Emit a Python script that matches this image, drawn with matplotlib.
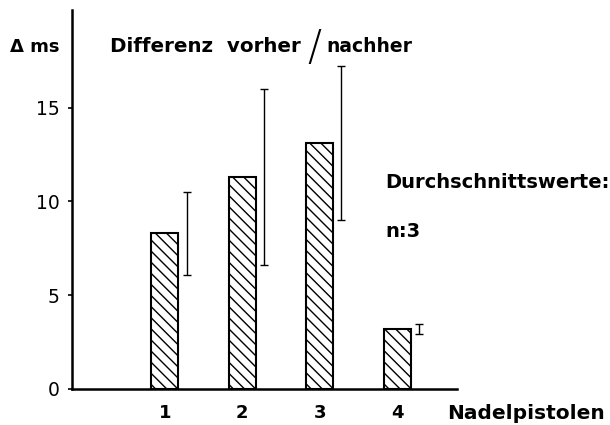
import numpy as np
import matplotlib
matplotlib.use('Agg')
import matplotlib.pyplot as plt

# Nadelpistolen 1-4, Differenz vorher/nachher in ms
pistolen = [1, 2, 3, 4]
tick_labels = ['1', '2', '3', '4']
mittel = [8.3, 11.3, 13.1, 3.2]
streuung = [2.2, 4.7, 4.1, 0.25]
y_ticks = [0, 5, 10, 15]

plt.rcParams['font.family'] = ['DejaVu Sans']
plt.rcParams['hatch.linewidth'] = 1.0

fig = plt.figure(figsize=(6.1, 4.25), dpi=100)
ax = fig.add_axes([0.118, 0.085, 0.631, 0.891])

x = np.array(pistolen, dtype=float)
ax.bar(x, mittel, width=0.35, facecolor='white', edgecolor='black',
       linewidth=1.5, hatch='\\\\\\', zorder=2)
ax.errorbar(x + 0.28, mittel, yerr=streuung, fmt='none', ecolor='black',
            elinewidth=1.0, capsize=3, capthick=1.0)

ax.set_xlim(-0.2, 4.77)
ax.set_ylim(0, 20.2)
ax.set_yticks(y_ticks)
ax.set_yticklabels([str(v) for v in y_ticks], fontsize=13.5)
ax.set_xticks(x)
ax.set_xticklabels(tick_labels, fontsize=13, fontweight='bold')
ax.tick_params(axis='y', length=3, width=1.2, pad=6)
ax.tick_params(axis='x', length=0, pad=11)

for s in ['top', 'right']:
    ax.spines[s].set_visible(False)
ax.spines['left'].set_linewidth(1.8)
ax.spines['bottom'].set_linewidth(1.8)

# Beschriftungen
fig.text(10 / 610, 1 - 52 / 425, '\u0394 ms', fontsize=13, fontweight='bold')
fig.text(110 / 610, 1 - 52 / 425, 'Differenz  vorher', fontsize=14.3,
         fontweight='bold')
fig.text(307 / 610, 1 - 60 / 425, '/', fontsize=30, fontweight='light')
fig.text(326 / 610, 1 - 52 / 425, 'nachher', fontsize=13.5, fontweight='bold')
fig.text(385 / 610, 1 - 188 / 425, 'Durchschnittswerte:', fontsize=14,
         fontweight='bold')
fig.text(385 / 610, 1 - 237 / 425, 'n:3', fontsize=14, fontweight='bold')
fig.text(447 / 610, 1 - 419 / 425, 'Nadelpistolen', fontsize=14.5,
         fontweight='bold')

fig.savefig('out.png', dpi=100)
